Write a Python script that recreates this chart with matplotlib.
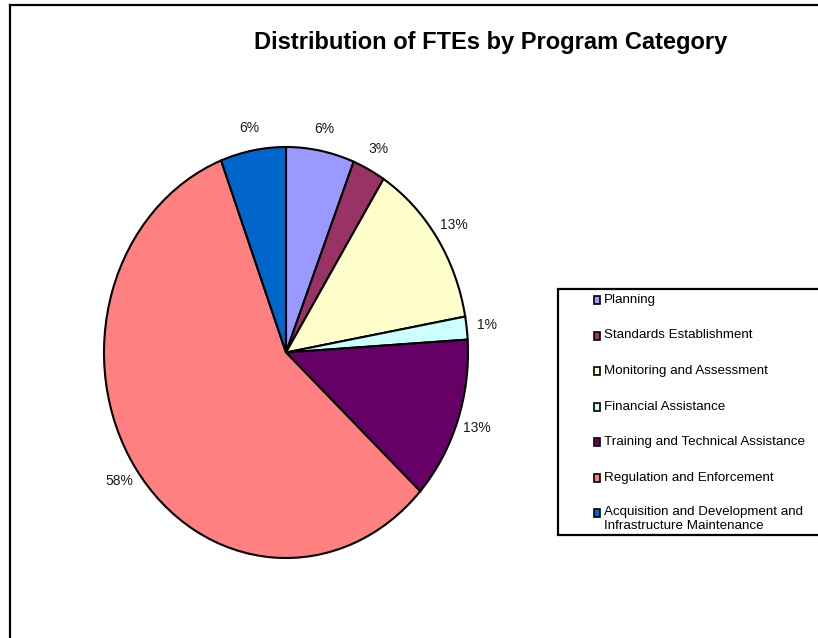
import matplotlib
matplotlib.use("Agg")
import matplotlib.pyplot as plt
from matplotlib.patches import Rectangle
from matplotlib.lines import Line2D

plt.rcParams['font.family'] = ['Liberation Sans', 'DejaVu Sans']

categories = ['Planning', 'Standards Establishment', 'Monitoring and Assessment',
              'Financial Assistance', 'Training and Technical Assistance',
              'Regulation and Enforcement',
              'Acquisition and Development and\nInfrastructure Maintenance']
shares = [6.06, 2.94, 13.2, 1.8, 12.8, 57.4, 5.8]
pct_labels = ['6%', '3%', '13%', '1%', '13%', '58%', '6%']
colors = ['#9999FF', '#993366', '#FFFFCC', '#CCFFFF', '#660066', '#FF8080', '#0066CC']

W, H = 818, 638
fig = plt.figure(figsize=(W / 100, H / 100), dpi=100)

def fx(px):
    return px / W

def fy(py):
    return 1 - py / H

# outer chart frame (only top and left show)
fig.add_artist(Line2D([fx(10), fx(10)], [fy(5), 0], color='black', lw=1.6, transform=fig.transFigure))
fig.add_artist(Line2D([fx(10), 1.0], [fy(5), fy(5)], color='black', lw=1.6, transform=fig.transFigure))

fig.text(fx(491), fy(42), 'Distribution of FTEs by Program Category',
         ha='center', va='center', fontsize=17, fontweight='bold')

# pie is stretched: center (286, 352.5), rx 182, ry 205.5 px
cx, cy, rx, ry = 286, 352.5, 182, 205.5
lim = 1.3
ax = fig.add_axes([fx(cx - lim * rx), (H - cy - lim * ry) / H, 2 * lim * rx / W, 2 * lim * ry / H])
wedges, texts = ax.pie(shares, labels=pct_labels, colors=colors, startangle=90,
                       counterclock=False, labeldistance=1.11,
                       wedgeprops=dict(edgecolor='black', linewidth=1.5),
                       textprops=dict(fontsize=10, color='#1a1a1a'))
for t in texts:
    t.set_ha('center')
    t.set_va('center')
ax.set_aspect('auto')
ax.set_xlim(-lim, lim)
ax.set_ylim(-lim, lim)
ax.axis('off')

# legend box
fig.add_artist(Rectangle((fx(558), fy(535)), fx(830) - fx(558), fy(289) - fy(535),
                         transform=fig.transFigure, facecolor='white', edgecolor='black', lw=1.6))
row_y = [300, 335.5, 371, 406.5, 442, 477.5, 513]
for name, col, yy in zip(categories, colors, row_y):
    fig.add_artist(Rectangle((fx(594), fy(yy + 4)), 6 / W, 8 / H, transform=fig.transFigure,
                             facecolor=col, edgecolor='black', lw=1.2))
    if '\n' in name:
        fig.text(fx(604), fy(yy - 7.5), name, ha='left', va='top', fontsize=9.6, linespacing=1.3)
    else:
        fig.text(fx(604), fy(yy), name, ha='left', va='center', fontsize=9.6)

fig.savefig('out.png', dpi=100)
